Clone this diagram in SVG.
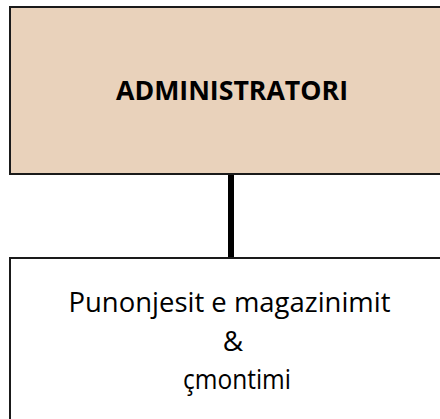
<svg xmlns="http://www.w3.org/2000/svg" width="440" height="419" viewBox="0 0 440 419">
<style>
.box{stroke:#1a1a1a;stroke-width:2}
.t{font-family:"Open Sans","Liberation Sans",sans-serif;fill:#000;text-anchor:middle}
</style>
<rect width="440" height="419" fill="#fff"/>
<g id="connectors">
<line x1="231" y1="175" x2="231" y2="258" stroke="#000" stroke-width="6"/>
</g>
<g id="node-admin">
<rect class="box" x="10" y="7" width="440" height="167" fill="#E9D2BB"/>
<text class="t" x="232" y="100" font-size="27" font-weight="bold" textLength="232" lengthAdjust="spacingAndGlyphs">ADMINISTRATORI</text>
</g>
<g id="node-staff">
<rect class="box" x="10" y="258" width="440" height="170" fill="#fff"/>
<text class="t" x="229.5" y="312" font-size="28" textLength="322" lengthAdjust="spacingAndGlyphs">Punonjesit e magazinimit</text>
<text class="t" x="233" y="351" font-size="28">&amp;</text>
<text class="t" x="237" y="389" font-size="28" textLength="108" lengthAdjust="spacingAndGlyphs">çmontimi</text>
</g>
</svg>
